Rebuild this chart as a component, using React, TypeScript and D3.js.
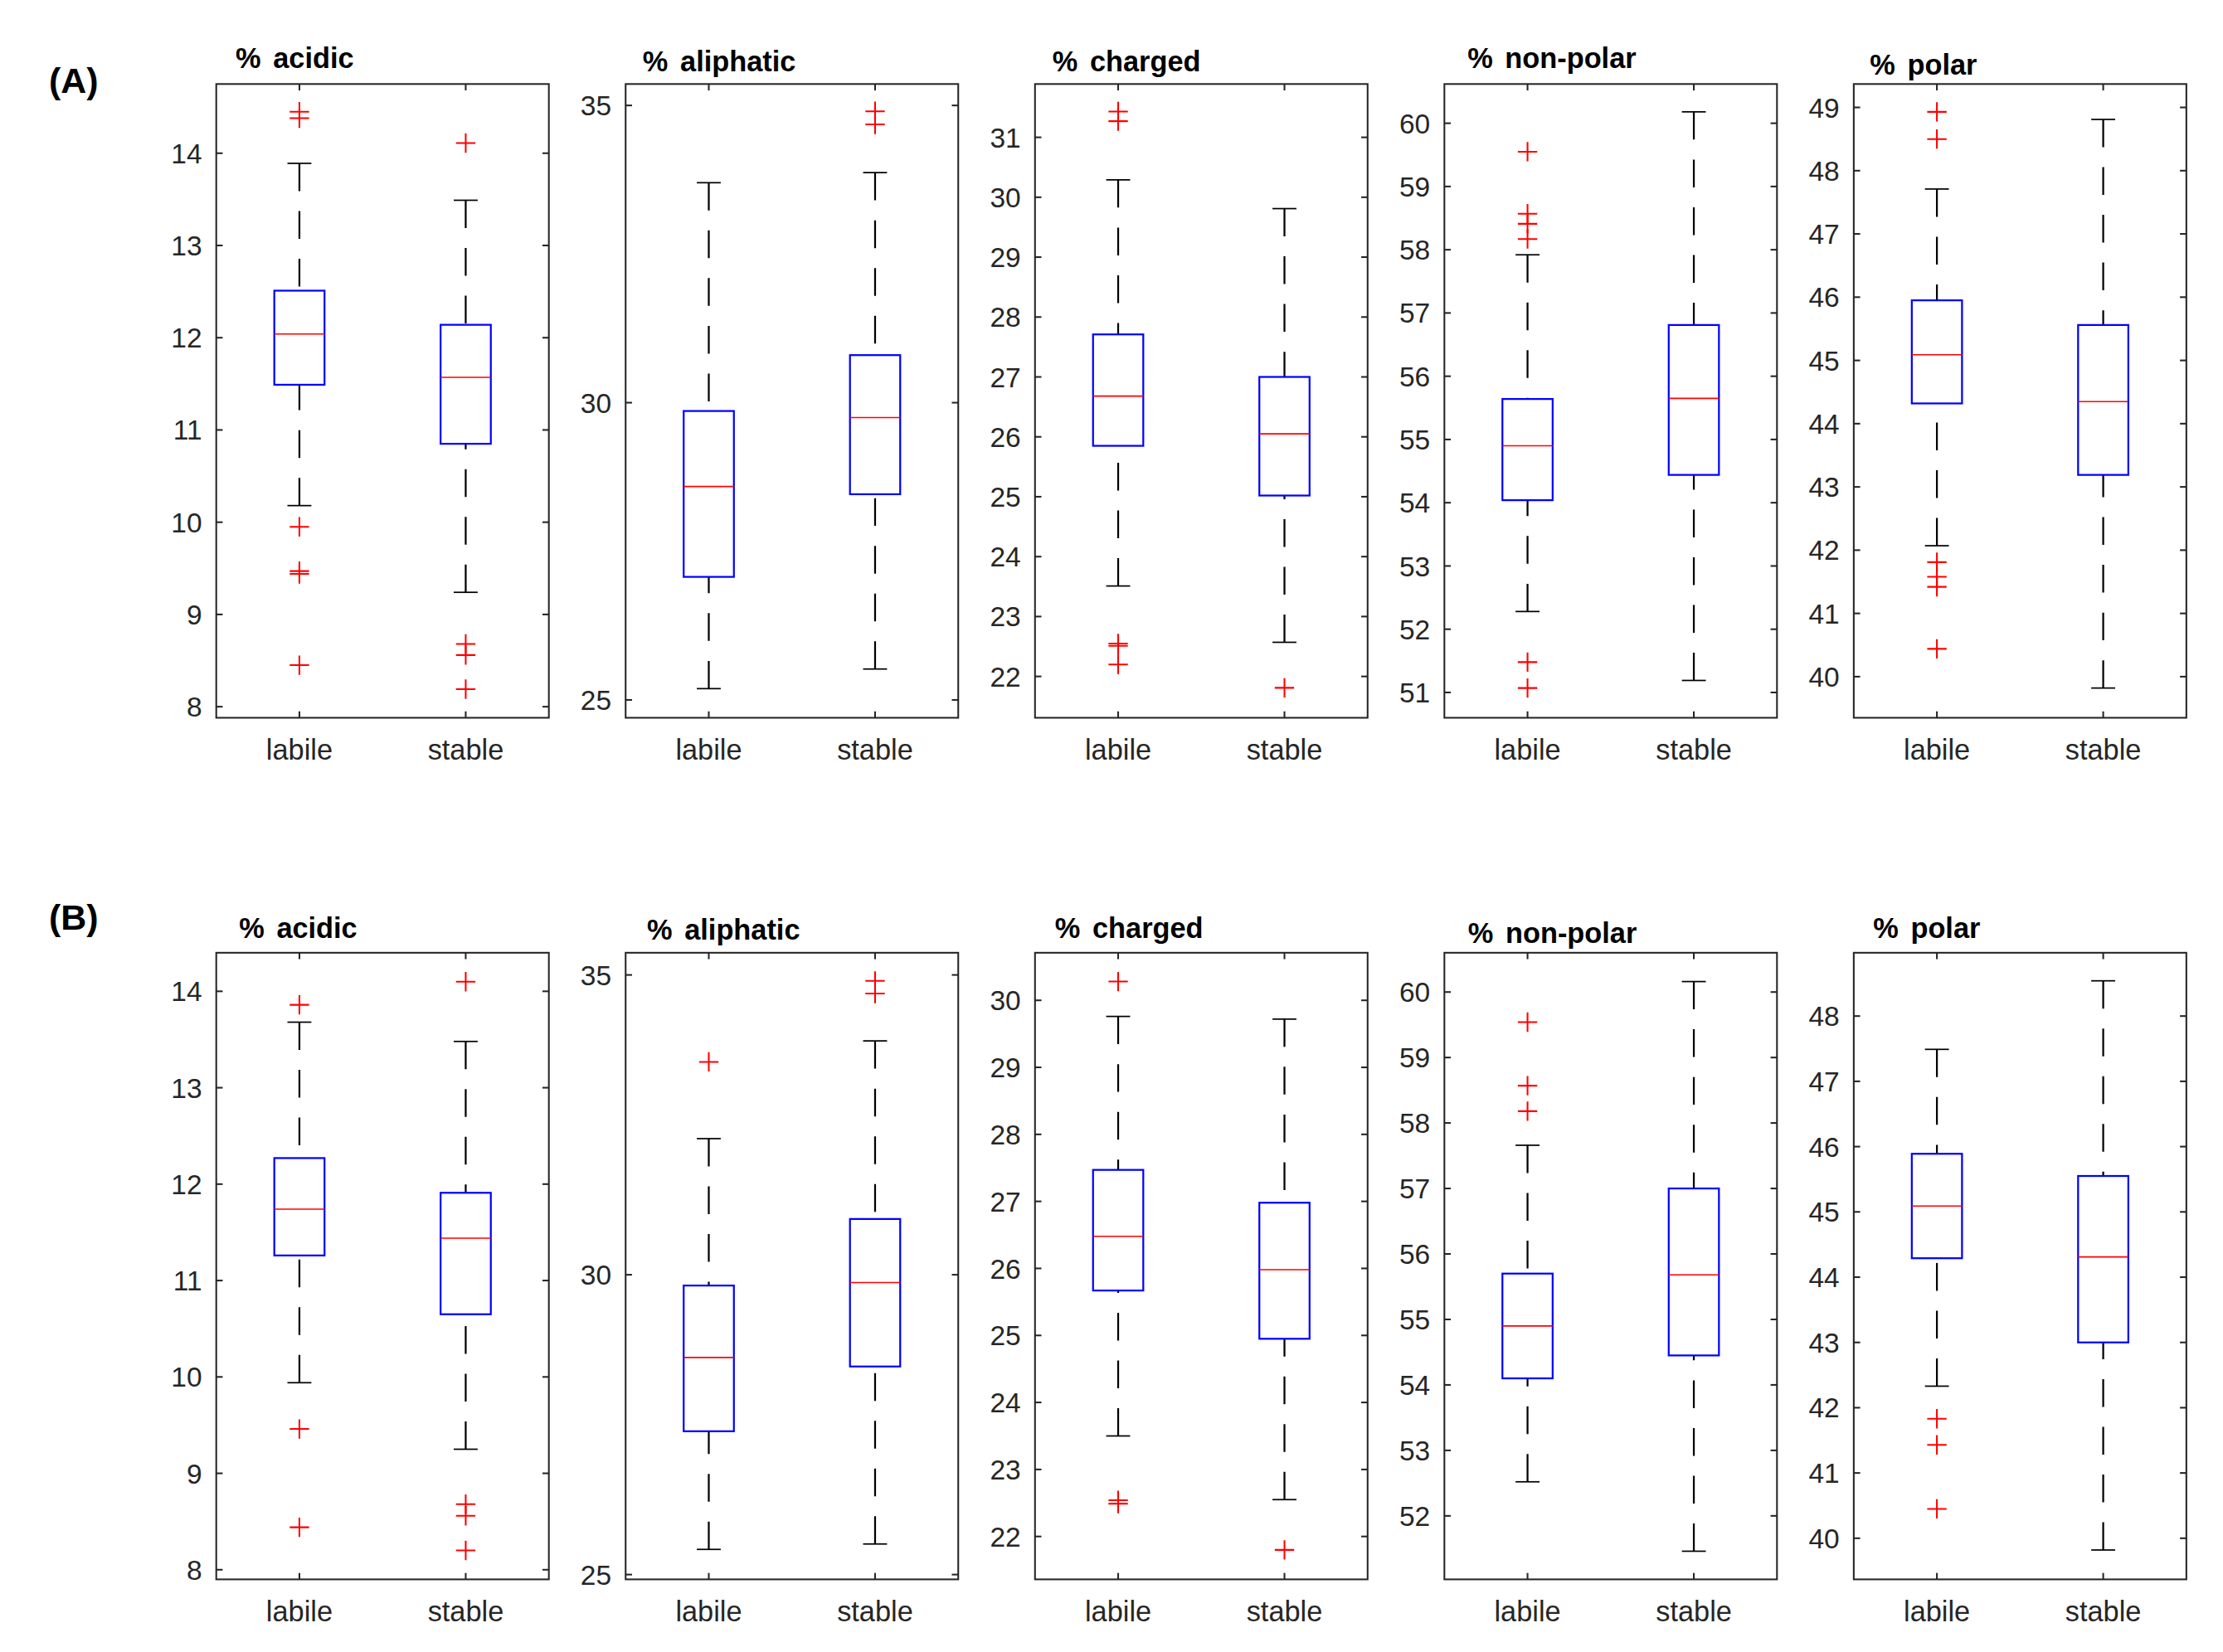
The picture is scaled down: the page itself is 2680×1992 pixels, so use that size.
import React from 'react';
import * as d3 from 'd3';

// groups on the x axis of every panel
const groups = ['labile', 'stable'];
const properties = ['% acidic', '% aliphatic', '% charged', '% non-polar', '% polar'];
const rowLabels = ['(A)', '(B)'];

// y limits per panel
const yLimitsA = [[7.88, 14.75], [24.7, 35.36], [21.31, 31.89], [50.6, 60.62], [39.35, 49.37]];
const yLimitsB = [[7.9, 14.4], [24.92, 35.37], [21.36, 30.71], [51.03, 60.6], [39.37, 48.97]];

// y tick values per panel
const yTicksA = [
	[8, 9, 10, 11, 12, 13, 14],
	[25, 30, 35],
	[22, 23, 24, 25, 26, 27, 28, 29, 30, 31],
	[51, 52, 53, 54, 55, 56, 57, 58, 59, 60],
	[40, 41, 42, 43, 44, 45, 46, 47, 48, 49],
];
const yTicksB = [
	[8, 9, 10, 11, 12, 13, 14],
	[25, 30, 35],
	[22, 23, 24, 25, 26, 27, 28, 29, 30],
	[52, 53, 54, 55, 56, 57, 58, 59, 60],
	[40, 41, 42, 43, 44, 45, 46, 47, 48],
];

// [lower whisker, Q1, median, Q3, upper whisker] for labile, stable
const statsA = [
	[[10.18, 11.49, 12.04, 12.51, 13.89], [9.24, 10.85, 11.57, 12.14, 13.49]],
	[[25.19, 27.07, 28.59, 29.86, 33.7], [25.52, 28.46, 29.75, 30.8, 33.87]],
	[[23.51, 25.85, 26.68, 27.71, 30.29], [22.57, 25.02, 26.05, 27.0, 29.81]],
	[[52.28, 54.04, 54.9, 55.64, 57.92], [51.19, 54.44, 55.65, 56.81, 60.18]],
	[[42.07, 44.32, 45.09, 45.95, 47.71], [39.82, 43.19, 44.35, 45.56, 48.81]],
];
const outliersA = [
	[[14.45, 14.38, 9.95, 9.47, 9.44, 8.45], [14.11, 8.68, 8.56, 8.19]],
	[[], [34.9, 34.68]],
	[[31.43, 31.27, 22.55, 22.51, 22.2], [21.81]],
	[[59.55, 58.57, 58.41, 58.17, 51.48, 51.07], []],
	[[48.93, 48.5, 41.81, 41.58, 41.42, 40.44], []],
];

const statsB = [
	[[9.94, 11.26, 11.74, 12.27, 13.68], [9.25, 10.65, 11.44, 11.91, 13.48]],
	[[25.42, 27.39, 28.62, 29.82, 32.27], [25.51, 28.47, 29.87, 30.93, 33.9]],
	[[23.5, 25.67, 26.48, 27.47, 29.76], [22.55, 24.95, 25.98, 26.98, 29.72]],
	[[52.52, 54.1, 54.9, 55.7, 57.66], [51.46, 54.45, 55.68, 57.0, 60.16]],
	[[42.33, 44.29, 45.09, 45.89, 47.49], [39.82, 43.0, 44.31, 45.55, 48.54]],
];
const outliersB = [
	[[13.86, 9.46, 8.44], [14.1, 8.68, 8.56, 8.2]],
	[[33.55], [34.9, 34.69]],
	[[30.28, 22.54, 22.49], [21.8]],
	[[59.54, 58.57, 58.18], []],
	[[41.83, 41.43, 40.45], []],
];

const rows = [
	{ label: rowLabels[0], limits: yLimitsA, ticks: yTicksA, stats: statsA, outliers: outliersA },
	{ label: rowLabels[1], limits: yLimitsB, ticks: yTicksB, stats: statsB, outliers: outliersB },
];

// layout (in a 1560 x 1160 view box, scaled up to the page)
const VW = 1560;
const VH = 1160;
const panelLeft0 = 151.5;
const panelStep = 287.4;
const panelW = 233.5;
const rowTop = [59, 669];
const rowH = [445, 440];
const rowLabelY = [65, 653];
const titleY = [
	[47.7, 50.2, 50.2, 47.7, 52.3],
	[658.4, 659.5, 658.4, 662, 658.4],
];
const titleX = [
	[13.6, 12, 12.2, 16.2, 11.3],
	[16, 15, 14, 16.6, 13.6],
];

const axisColor = '#262626';
const font = '"Liberation Sans", Arial, Helvetica, sans-serif';

const Panel = ({ row, col }: { row: number; col: number }) => {
	const r = rows[row];
	const h = rowH[row];
	const x = d3.scaleLinear().domain([0.5, 2.5]).range([0, panelW]);
	const y = d3.scaleLinear().domain(r.limits[col]).range([h, 0]);
	const boxHalf = 0.151;
	const capHalf = 0.072;
	const mk = 6.8;
	const tickLen = 4.5;

	return (
		<g transform={`translate(${panelLeft0 + col * panelStep},${rowTop[row]})`}>
			<text
				x={titleX[row][col]}
				y={titleY[row][col] - rowTop[row]}
				fontFamily={font}
				fontWeight='bold'
				fontSize={20}
				wordSpacing={3}
				fill='#000'
			>
				{properties[col]}
			</text>

			{groups.map((g, gi) => {
				const cx = x(gi + 1);
				const [lw, q1, med, q3, uw] = r.stats[col][gi];
				return (
					<g key={g}>
						<line x1={cx} x2={cx} y1={y(uw)} y2={y(q3)} stroke='#000' strokeWidth={1.3} strokeDasharray='19.5 14' />
						<line x1={cx} x2={cx} y1={y(lw)} y2={y(q1)} stroke='#000' strokeWidth={1.3} strokeDasharray='19.5 14' />
						<line x1={x(gi + 1 - capHalf)} x2={x(gi + 1 + capHalf)} y1={y(uw)} y2={y(uw)} stroke='#000' strokeWidth={1} />
						<line x1={x(gi + 1 - capHalf)} x2={x(gi + 1 + capHalf)} y1={y(lw)} y2={y(lw)} stroke='#000' strokeWidth={1} />
						<rect
							x={x(gi + 1 - boxHalf)}
							y={y(q3)}
							width={x(gi + 1 + boxHalf) - x(gi + 1 - boxHalf)}
							height={y(q1) - y(q3)}
							fill='none'
							stroke='#0000ff'
							strokeWidth={1.3}
						/>
						<line x1={x(gi + 1 - boxHalf)} x2={x(gi + 1 + boxHalf)} y1={y(med)} y2={y(med)} stroke='#ff0000' strokeWidth={0.9} />
						{r.outliers[col][gi].map((v, i) => (
							<path
								key={i}
								d={`M${cx - mk},${y(v)}H${cx + mk}M${cx},${y(v) - mk}V${y(v) + mk}`}
								stroke='#ff0000'
								strokeWidth={1.2}
								fill='none'
							/>
						))}
					</g>
				);
			})}

			{/* frame and ticks */}
			<rect x={0} y={0} width={panelW} height={h} fill='none' stroke={axisColor} strokeWidth={1.2} />
			{r.ticks[col].map((t) => (
				<g key={t}>
					<line x1={0} x2={tickLen} y1={y(t)} y2={y(t)} stroke={axisColor} strokeWidth={1.2} />
					<line x1={panelW - tickLen} x2={panelW} y1={y(t)} y2={y(t)} stroke={axisColor} strokeWidth={1.2} />
					<text
						x={-10}
						y={y(t)}
						dy='0.36em'
						textAnchor='end'
						fontFamily={font}
						fontSize={19.5}
						fill={axisColor}
					>
						{t}
					</text>
				</g>
			))}
			{groups.map((g, gi) => (
				<g key={g}>
					<line x1={x(gi + 1)} x2={x(gi + 1)} y1={h} y2={h - tickLen} stroke={axisColor} strokeWidth={1.2} />
					<line x1={x(gi + 1)} x2={x(gi + 1)} y1={0} y2={tickLen} stroke={axisColor} strokeWidth={1.2} />
					<text
						x={x(gi + 1)}
						y={h + 29.3}
						textAnchor='middle'
						fontFamily={font}
						fontSize={20}
						fill={axisColor}
					>
						{g}
					</text>
				</g>
			))}
		</g>
	);
};

const App: React.FC = () => {
	return (
		<div style={{ position: 'absolute', left: 0, top: 0 }}>
			<svg width={2680} height={1992} viewBox={`0 0 ${VW} ${VH}`} style={{ display: 'block', background: '#fff' }}>
				<rect x={0} y={0} width={VW} height={VH} fill='#fff' />
				{rows.map((r, ri) => (
					<g key={r.label}>
						<text x={34} y={rowLabelY[ri]} fontFamily={font} fontWeight='bold' fontSize={25} fill='#000'>
							{r.label}
						</text>
						{properties.map((p, ci) => (
							<Panel key={p} row={ri} col={ci} />
						))}
					</g>
				))}
			</svg>
		</div>
	);
};

export default App;
